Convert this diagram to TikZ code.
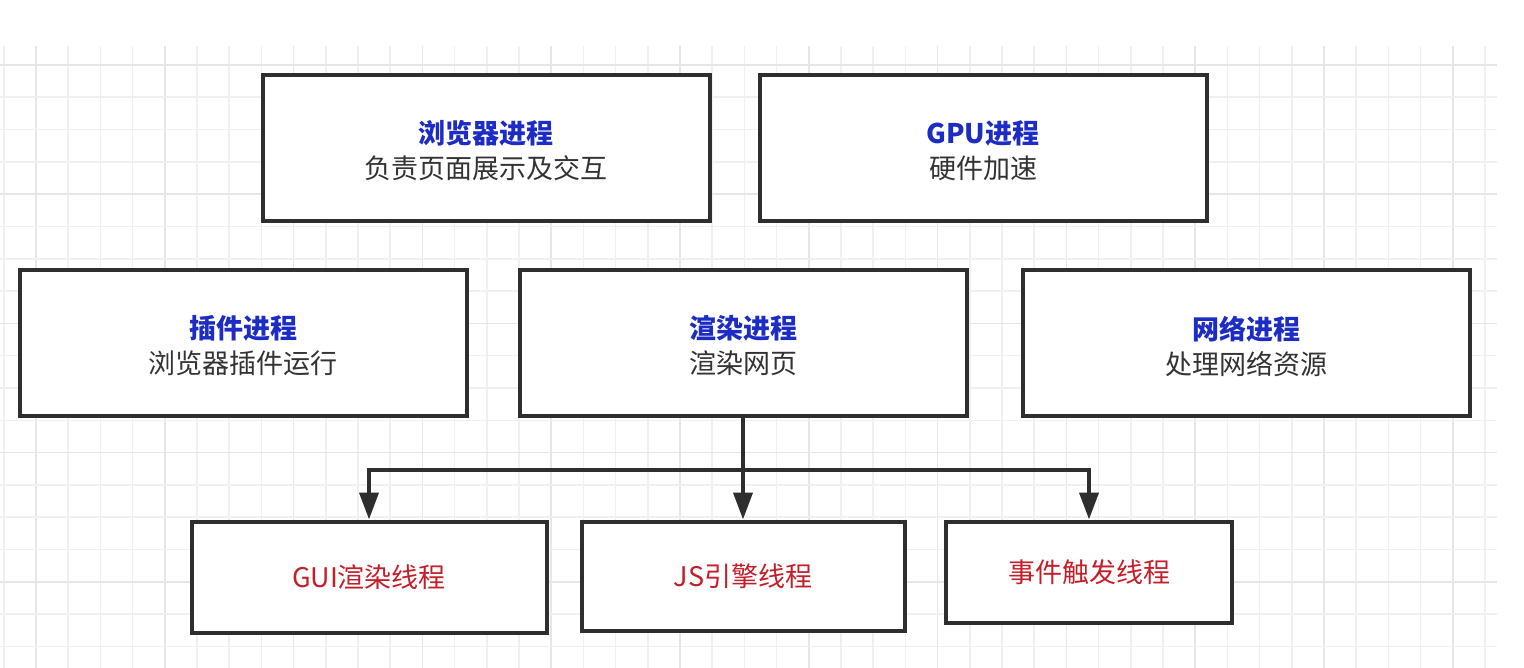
\documentclass[tikz,border=0pt]{standalone}
\usepackage{fontspec}
\newfontfamily\cjk{Noto Sans CJK SC}
\usetikzlibrary{arrows.meta}
\definecolor{gridminor}{HTML}{F0F0F0}
\definecolor{gridmajor}{HTML}{E6E6E6}
\definecolor{boxline}{HTML}{2E2E2E}
\definecolor{titleblue}{HTML}{1C2CC4}
\definecolor{subgray}{HTML}{333333}
\definecolor{threadred}{HTML}{C41E2A}
\tikzset{
  procbox/.style={draw=boxline, line width=4pt, fill=white, inner sep=0pt,
    minimum width=447pt, minimum height=146pt},
  proclabel/.style={inner sep=0pt, align=center,
    font=\cjk\fontsize{27pt}{35pt}\selectfont},
  threadbox/.style={draw=boxline, line width=4pt, fill=white, inner sep=0pt,
    minimum height=111pt, text=threadred,
    font=\cjk\fontsize{27pt}{35pt}\selectfont},
  link/.style={draw=boxline, line width=4pt},
  arrowlink/.style={link, -{Triangle[width=19pt,length=27pt]}},
}
\newcommand{\proctext}[2]{{\color{titleblue}\bfseries #1}\\{\color{subgray}#2}}
\begin{document}
\begin{tikzpicture}[x=1pt,y=-1pt]
  \useasboundingbox (0,0) rectangle (1524,668);
  % background grid
  \foreach \k in {0,...,46} {
    \pgfmathsetmacro{\gx}{3.8+32.2*\k}
    \pgfmathtruncatemacro{\mj}{mod(\k+3,4)==0}
    \ifnum\mj=1
      \draw[gridmajor, line width=1.6pt] (\gx,46) -- (\gx,668);
    \else
      \draw[gridminor, line width=1.6pt] (\gx,46) -- (\gx,668);
    \fi
  }
  \foreach \k in {0,...,18} {
    \pgfmathsetmacro{\gy}{65+32.3*\k}
    \pgfmathtruncatemacro{\mj}{mod(\k,4)==0}
    \ifnum\mj=1
      \draw[gridmajor, line width=1.6pt] (0,\gy) -- (1497,\gy);
    \else
      \draw[gridminor, line width=1.6pt] (0,\gy) -- (1497,\gy);
    \fi
  }
  % process boxes
  \node[procbox] (browser) at (486,148) {};
  \node[procbox] (gpu) at (983,148) {};
  \node[procbox] (plugin) at (243,343) {};
  \node[procbox] (render) at (743,343) {};
  \node[procbox] (network) at (1246,343) {};
  \node[proclabel] (browserlbl) at ([yshift=-3pt]browser.center) {\proctext{浏览器进程}{负责页面展示及交互}};
  \node[proclabel] (gpulbl) at ([yshift=-3pt]gpu.center) {\proctext{GPU进程}{硬件加速}};
  \node[proclabel] (pluginlbl) at ([yshift=-3pt]plugin.center) {\proctext{插件进程}{浏览器插件运行}};
  \node[proclabel] (renderlbl) at ([yshift=-3pt]render.center) {\proctext{渲染进程}{渲染网页}};
  \node[proclabel] (networklbl) at ([yshift=-3pt]network.center) {\proctext{网络进程}{处理网络资源}};
  % thread boxes
  \node[threadbox, minimum width=355pt] (gui) at (369,577) {GUI渲染线程};
  \node[threadbox, minimum width=323pt, minimum height=109pt] (js) at (743,576) {JS引擎线程};
  \node[threadbox, minimum width=286pt, minimum height=101pt] (event) at (1089,572) {事件触发线程};
  % connectors
  \coordinate (split) at (743,470);
  \draw[link] (render.south) -- (split);
  \draw[arrowlink] (split) -| (gui.north);
  \draw[arrowlink] (split) -- (js.north);
  \draw[arrowlink] (split) -| (event.north);
\end{tikzpicture}
\end{document}
